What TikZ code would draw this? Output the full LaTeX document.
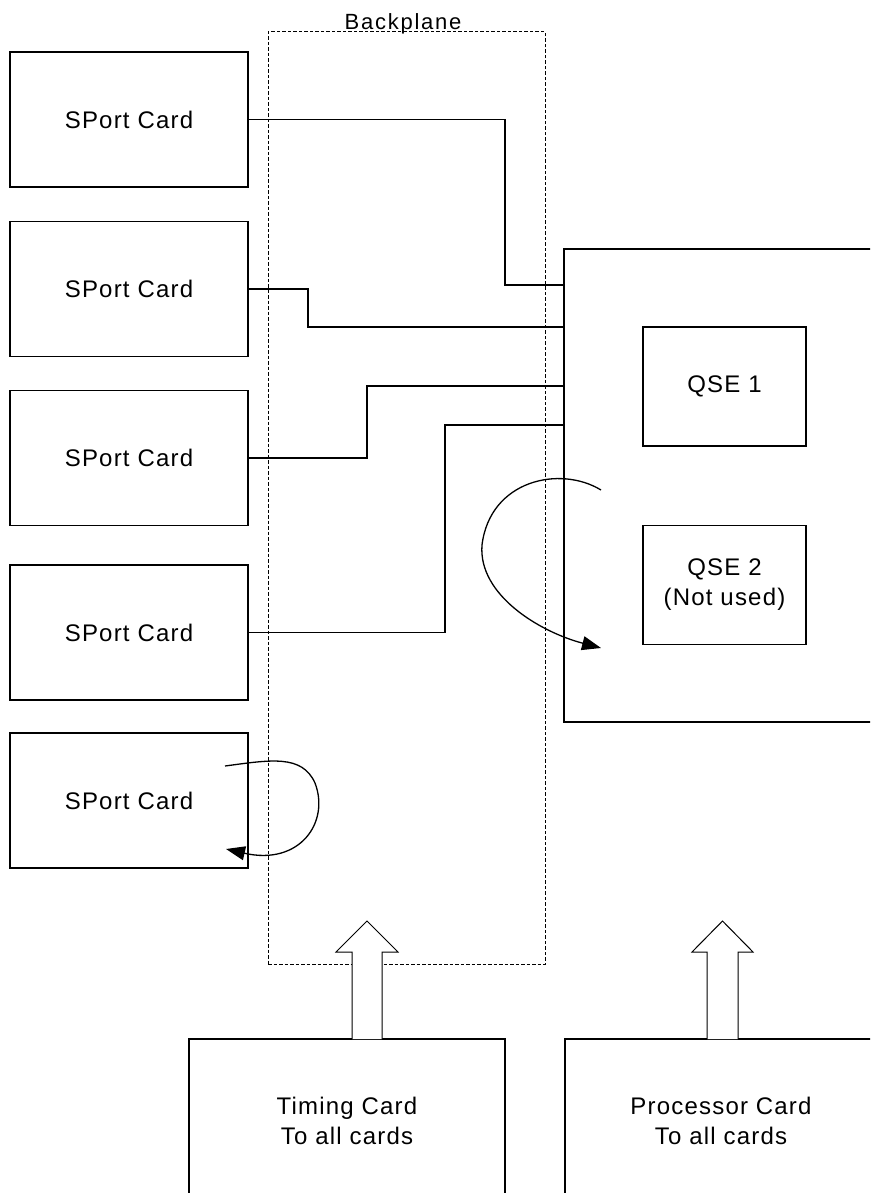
\documentclass[tikz,border=0pt]{standalone}
\usepackage{fontspec}
\setmainfont{Liberation Sans}
\usetikzlibrary{arrows.meta}
\tikzset{
  card/.style={draw, line width=1.3pt, align=center, inner sep=0pt,
               font=\fontsize{24}{30}\selectfont\addfontfeature{LetterSpace=5}},
  sport/.style={card, minimum width=238pt, minimum height=135pt},
  qse/.style={card, minimum width=163pt, minimum height=119pt},
  bigcard/.style={card, minimum height=164pt},
  bplane/.style={draw, dash pattern=on 3.5pt off 2pt, line width=1pt,
                 minimum width=277pt, minimum height=932pt},
  wire/.style={line width=1.3pt},
  turn/.style={line width=1.3pt, -{Triangle[length=19pt,width=14pt]}},
  fatarr/.style={draw, line width=1pt, fill=white},
}

\begin{document}
\begin{tikzpicture}[x=1pt, y=-1pt]
  \useasboundingbox (0,0) rectangle (870,1193);
  \clip (0,0) rectangle (870,1193);

  % backplane
  \node[bplane] (bp) at (406.5,498) {};
  \node[anchor=base, font=\fontsize{22}{26}\selectfont\addfontfeature{LetterSpace=8}]
    (bplbl) at (403,29.5) {Backplane};

  % sport cards
  \node[sport] (sp1) at (129,119.5) {SPort Card};
  \node[sport] (sp2) at (129,289) {SPort Card};
  \node[sport] (sp3) at (129,458) {SPort Card};
  \node[sport] (sp4) at (129,632.5) {SPort Card};
  \node[sport] (sp5) at (129,800.5) {SPort Card};

  % switch board and qse chips
  \node[card, minimum width=316pt, minimum height=473pt] (swb) at (722,485.5) {};
  \node[qse] (qse1) at (724.5,386.5) {QSE 1};
  \node[qse] (qse2) at (724.5,585) {QSE 2\\(Not used)};

  % timing and processor
  \node[bigcard, minimum width=316pt] (tim) at (347,1121) {Timing Card\\To all cards};
  \node[bigcard, minimum width=312pt] (proc) at (721,1121) {Processor Card\\To all cards};

  % wires to the switch
  \draw[wire] (sp1.east) -- (505,119.5) -- (505,285) -- (swb.west |- 0,285);
  \draw[wire] (sp2.east) -- (308,289) -- (308,327) -- (swb.west |- 0,327);
  \draw[wire] (sp3.east) -- (367,458) -- (367,386) -- (swb.west |- 0,386);
  \draw[wire] (sp4.east) -- (445,632.5) -- (445,425) -- (swb.west |- 0,425);

  % loopbacks
  \draw[turn] (225,766) .. controls (270,760) and (302,754) .. (315,783)
    .. controls (330,822) and (300,866) .. (226,849);
  \draw[turn] (601,490) .. controls (560,465) and (490,480) .. (482,545)
    .. controls (478,595) and (540,632) .. (601,648);

  % feed arrows
  \draw[fatarr] (352,1039) -- (352,952) -- (336,952) -- (367,921)
    -- (398,952) -- (382,952) -- (382,1039);
  \draw[fatarr] (707,1039) -- (707,952) -- (692,952) -- (722.5,921)
    -- (753,952) -- (738,952) -- (738,1039);
\end{tikzpicture}
\end{document}
